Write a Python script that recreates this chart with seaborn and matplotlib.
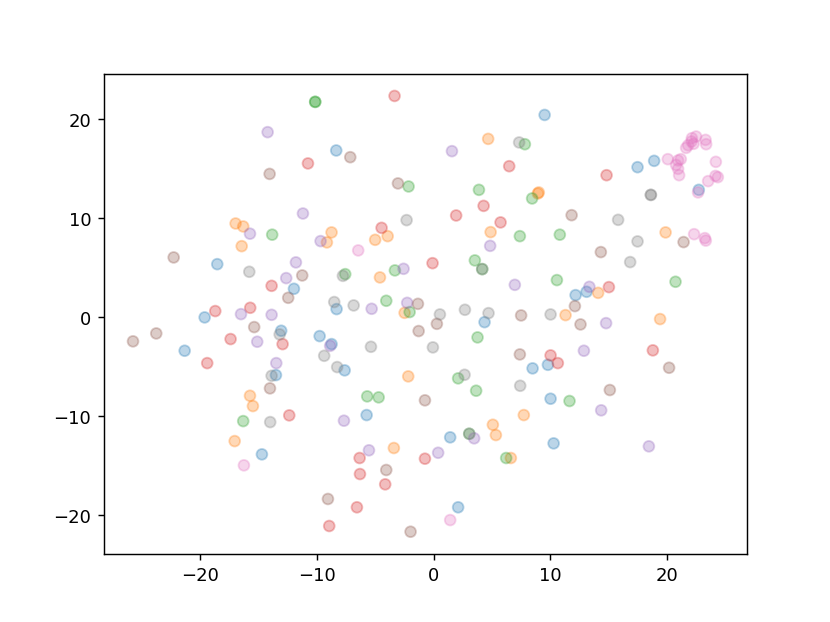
import matplotlib
matplotlib.use("Agg")
import matplotlib.pyplot as plt
import seaborn as sns
import pandas as pd

# embedding coordinates per class
blue_x = [-8.33, 9.50, 17.45, 18.87, 22.69, -18.51, -19.59, -21.30, -11.95, -8.30, -13.04, -9.75, -8.73,
          -7.61, -13.49, -5.73, -14.69, 4.36, 12.15, 13.09, 10.01, 9.78, 8.47, 1.42, 10.27, 2.10]
blue_y = [16.84, 20.43, 15.15, 15.79, 12.86, 5.35, -0.03, -3.40, 2.86, 0.81, -1.38, -1.92, -2.73,
          -5.38, -5.86, -9.90, -13.87, -0.51, 2.22, 2.56, -8.25, -4.82, -5.18, -12.15, -12.76, -19.22]

orange_x = [-16.94, -16.29, -16.42, -8.73, -9.13, -5.00, -3.93, -4.59, -2.48, -2.17, -15.71, -15.46, -17.02,
            -3.40, 4.67, 8.92, 9.00, 4.88, 11.29, 14.08, 19.85, 19.38, 7.72, 5.07, 5.33, 6.61]
orange_y = [9.46, 9.16, 7.17, 8.56, 7.55, 7.81, 8.18, 4.01, 0.43, -5.99, -7.95, -8.99, -12.53,
            -13.23, 18.01, 12.49, 12.60, 8.59, 0.20, 2.45, 8.56, -0.20, -9.90, -10.88, -11.92, -14.24]

green_x = [-10.13, -10.13, -2.14, -13.81, -7.56, -3.31, -4.05, -2.05, -5.68, -4.70, -16.29, 7.81, 3.88,
           8.43, 7.38, 10.80, 3.53, 4.16, 10.55, 3.76, 2.10, 3.64, 11.63, 3.05, 6.21, 20.70]
green_y = [21.75, 21.75, 13.20, 8.33, 4.34, 4.72, 1.65, 0.51, -8.01, -8.11, -10.51, 17.47, 12.86,
           11.99, 8.18, 8.33, 5.73, 4.85, 3.74, -2.05, -6.19, -7.44, -8.48, -11.79, -14.24, 3.57]

red_x = [-3.34, -10.75, -4.45, -13.86, -18.68, -15.69, -17.37, -19.37, -12.92, -12.35, -6.33, -0.74, -6.30,
         -4.14, -6.56, -8.93, 6.47, 4.28, 1.93, 5.73, -0.09, 10.01, 10.63, 14.80, 15.00, 18.76]
red_y = [22.35, 15.53, 9.02, 3.16, 0.61, 0.94, -2.22, -4.65, -2.73, -9.93, -14.24, -14.31, -15.86,
         -16.90, -19.22, -21.11, 15.25, 11.24, 10.27, 9.57, 5.45, -3.87, -4.65, 14.34, 3.03, -3.36]

purple_x = [-14.20, -11.18, -15.71, -9.67, -11.78, -12.61, -2.57, -16.48, -15.09, -5.30, -2.26, -13.86, -8.85,
            -13.46, -7.67, -5.53, 1.57, 4.84, 6.95, 13.33, 12.86, 14.76, 3.47, 0.39, 14.34, 18.42]
purple_y = [18.69, 10.47, 8.43, 7.68, 5.53, 3.94, 4.88, 0.30, -2.49, 0.84, 1.44, 0.23, -2.90,
            -4.65, -10.47, -13.46, 16.77, 7.20, 3.26, 3.06, -3.40, -0.61, -12.25, -13.71, -9.42, -13.06]

brown_x = [-7.13, -14.03, -3.05, -22.24, -11.24, -12.44, -15.35, -23.73, -25.72, -1.34, -1.28, -14.00, -0.74,
           -4.05, -9.04, -1.97, 11.81, 0.28, 7.49, 12.09, 12.57, 7.38, 14.31, 21.39, 20.15, 15.08]
brown_y = [16.16, 14.47, 13.51, 6.03, 4.21, 1.95, -1.01, -1.65, -2.45, 1.34, -1.41, -7.20, -8.41,
           -15.45, -18.38, -21.69, 10.30, -0.68, 0.17, 1.11, -0.74, -3.77, 6.57, 7.58, -5.12, -7.37]

gray_x = [-2.31, -15.77, -7.76, -8.50, -6.84, -13.17, -5.36, -9.36, -8.25, -13.86, -13.98, 7.32, 4.16,
          0.54, 2.68, 4.70, 10.01, -0.06, 2.65, 7.41, 3.05, 18.59, 18.59, 15.79, 17.45, 16.82]
gray_y = [9.80, 4.58, 4.17, 1.52, 1.18, -1.75, -3.00, -3.91, -5.05, -5.93, -10.61, 17.65, 4.85,
          0.27, 0.74, 0.40, 0.27, -3.06, -5.83, -6.94, -11.79, 12.35, 12.35, 9.83, 7.65, 5.56]

pink_x = [20.04, 20.92, 21.15, 20.75, 20.92, 21.01, 21.61, 21.78, 22.07, 22.24, 22.46, 22.10, 23.27,
          23.32, 24.15, 24.12, 24.32, 23.49, 22.63, 22.29, 23.21, 23.29, -6.45, -16.23, 1.42]
pink_y = [15.96, 15.83, 15.96, 15.38, 14.98, 14.34, 17.10, 17.37, 17.75, 17.51, 18.25, 18.08, 17.91,
          17.47, 15.69, 14.27, 14.14, 13.74, 12.60, 8.38, 7.98, 7.73, 6.74, -14.98, -20.51]

groups = [
    ("0", blue_x, blue_y),
    ("1", orange_x, orange_y),
    ("2", green_x, green_y),
    ("3", red_x, red_y),
    ("4", purple_x, purple_y),
    ("5", brown_x, brown_y),
    ("6", pink_x, pink_y),
    ("7", gray_x, gray_y),
]

rows = []
for lab, xs, ys in groups:
    for a, b in zip(xs, ys):
        rows.append({"x": a, "y": b, "label": lab})
df = pd.DataFrame(rows)

pal = {"0": "tab:blue", "1": "tab:orange", "2": "tab:green", "3": "tab:red",
       "4": "tab:purple", "5": "tab:brown", "6": "tab:pink", "7": "tab:gray"}

fig, ax = plt.subplots(figsize=(6.4, 4.8), dpi=129.7)
sns.scatterplot(data=df, x="x", y="y", hue="label", palette=pal, alpha=0.3,
                s=36, edgecolor="face", linewidth=1.0, legend=False, ax=ax)
ax.set_xlabel("")
ax.set_ylabel("")
ax.set_xticks([-20, -10, 0, 10, 20])
ax.set_yticks([-20, -10, 0, 10, 20])

plt.savefig("out.png")
